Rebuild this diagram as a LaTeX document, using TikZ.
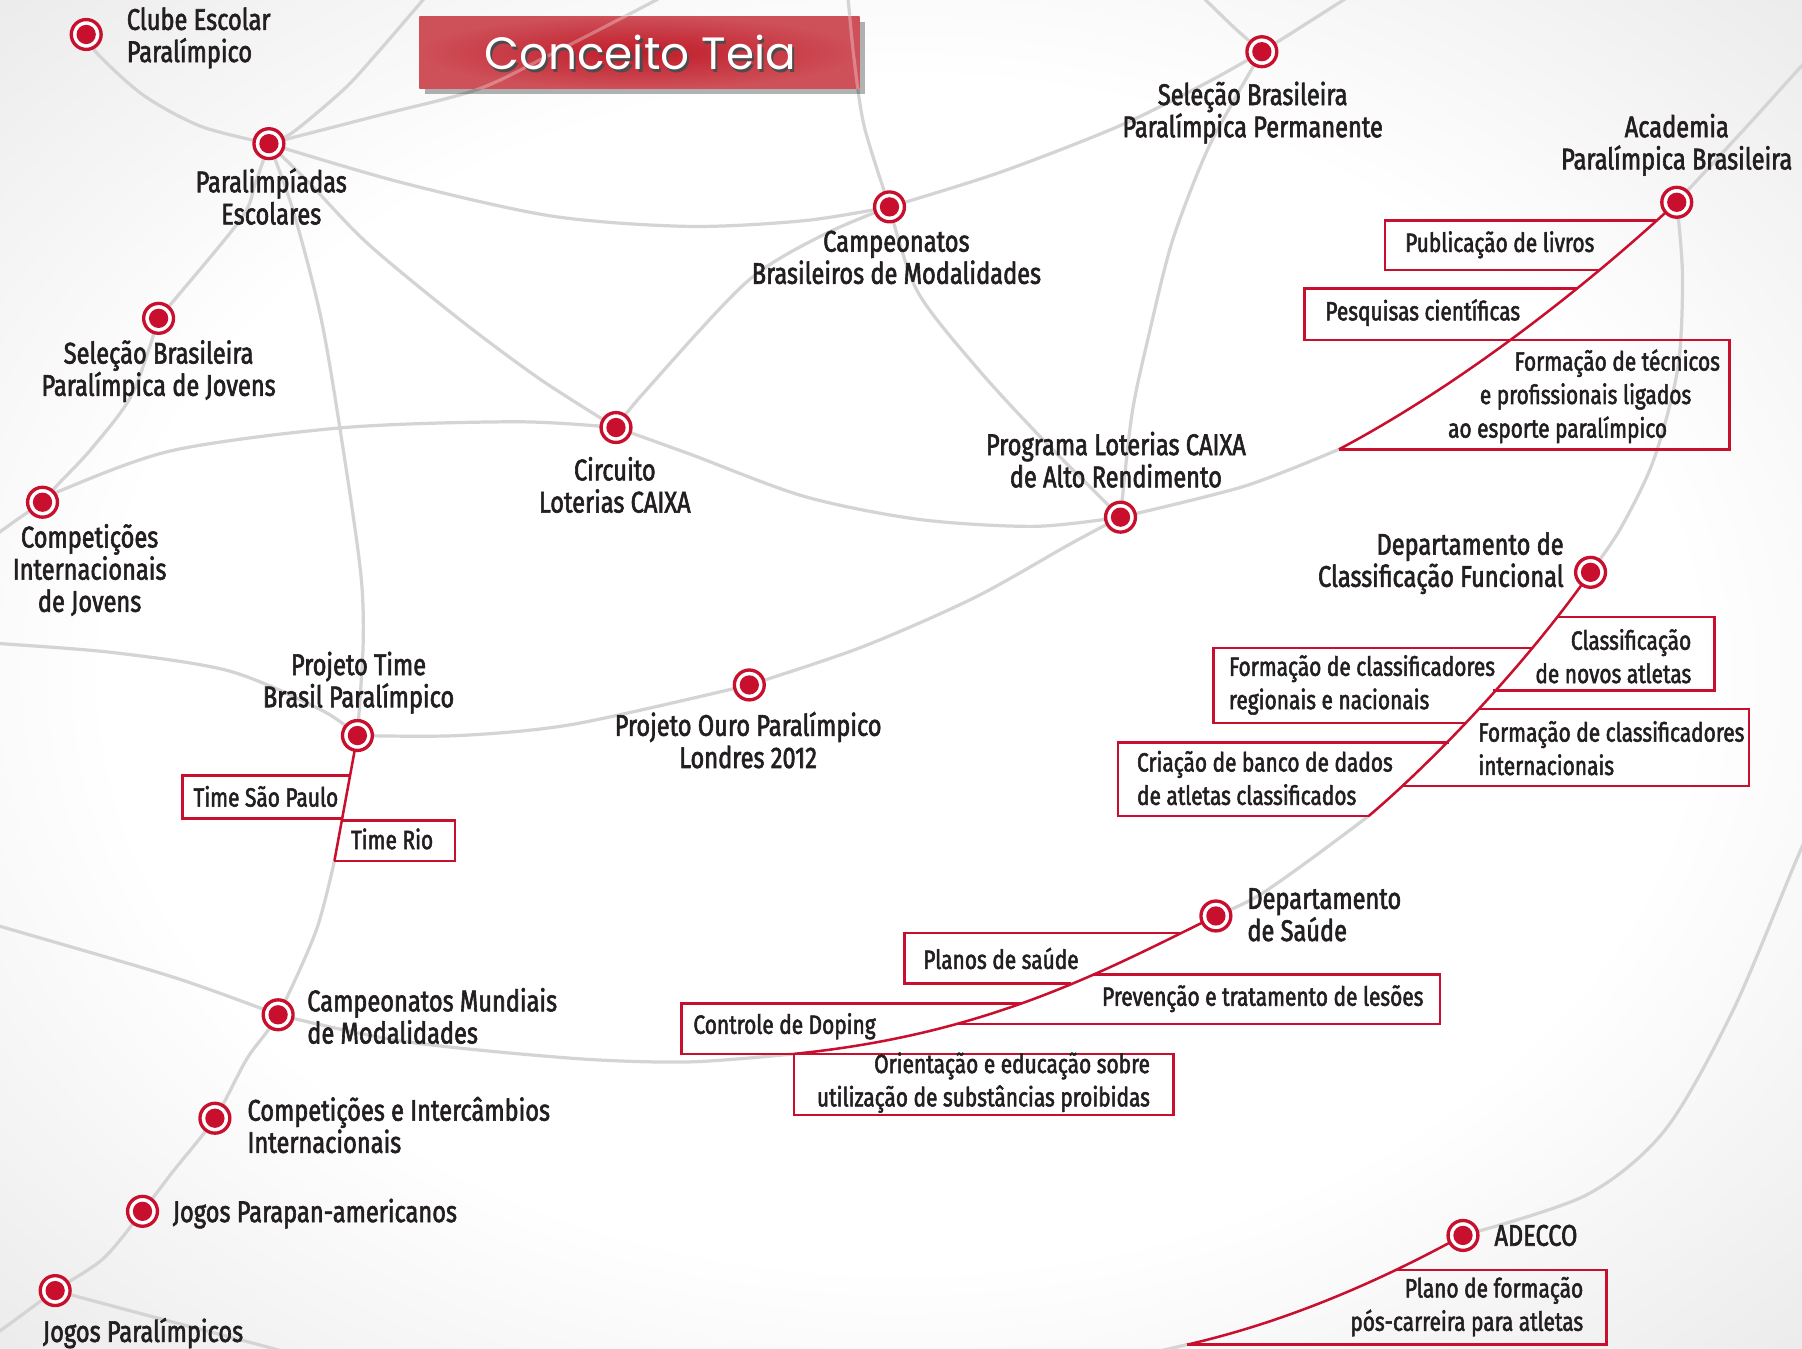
\documentclass[tikz,border=0pt]{standalone}
\usepackage{fontspec}
\setmainfont{Fira Sans}[FakeStretch=0.79, FakeBold=2]
\newfontfamily\titlefont{Poppins}
\usetikzlibrary{shadows}
\pgfdeclarelayer{bgl}
\pgfdeclarelayer{lin}
\pgfsetlayers{bgl,lin,main}
\definecolor{cred}{RGB}{200,16,46}
\definecolor{cgrey}{RGB}{212,212,212}
\definecolor{ctext}{RGB}{35,31,32}
\definecolor{tred1}{RGB}{192,28,42}
\definecolor{tred2}{RGB}{206,80,88}
\pgfdeclareradialshading{bgshade}{\pgfpoint{0bp}{0bp}}{color(0bp)=(white); color(22bp)=(white); color(50bp)=(black!16); color(72bp)=(black!20)}
\begin{document}
\begin{tikzpicture}[x=0.5pt,y=-0.5pt,
  marker/.style={circle, draw=cred, line width=1.45pt, fill=white, minimum size=13pt, inner sep=0pt,
    path picture={\fill[cred] (path picture bounding box.center) circle (4.2pt);}},
  lbl/.style={font=\fontsize{13}{14}\selectfont, text=ctext, inner sep=0pt, align=center},
  btxt/.style={font=\fontsize{11.5}{14.5}\selectfont, text=ctext, inner sep=0pt},
  web/.style={cgrey, line width=1.4pt},
  redl/.style={cred, line width=1.1pt},
  boxl/.style={cred, line width=1.1pt, line join=miter},
  streak/.style={white, opacity=0.3, line width=1.4pt}]
\useasboundingbox (0,0) rectangle (1568,1173);
\begin{pgfonlayer}{bgl}
\shade[shading=bgshade] (0,0) rectangle (1568,1173);
\end{pgfonlayer}

% markers
\node[marker] (m1) at (75,30) {};
\node[marker] (m2) at (234,125) {};
\node[marker] (m3) at (138,277) {};
\node[marker] (m4) at (37,437) {};
\node[marker] (m5) at (536,372) {};
\node[marker] (m6) at (774,180) {};
\node[marker] (m7) at (1098,45) {};
\node[marker] (m8) at (1459,176) {};
\node[marker] (m9) at (975,450) {};
\node[marker] (m10) at (1384,498) {};
\node[marker] (m11) at (652,596) {};
\node[marker] (m12) at (311,640) {};
\node[marker] (m13) at (242,883) {};
\node[marker] (m14) at (187,973) {};
\node[marker] (m15) at (124,1054) {};
\node[marker] (m16) at (48,1123) {};
\node[marker] (m17) at (1058,797) {};
\node[marker] (m18) at (1273,1075) {};

% branch ends
\coordinate (e8) at (1165,391);
\coordinate (e10) at (1191,710);
\coordinate (e17) at (691,917);
\coordinate (e18) at (1033,1170);
\coordinate (e12) at (291,749);

\begin{pgfonlayer}{lin}
\draw[web] plot[smooth] coordinates {(m1.center) (85,47) (125,83) (175,110) (m2.center)};
\draw[web] plot[smooth] coordinates {(m2.center) (255,115) (300,77) (331,43) (368,0) (378,-12)};
\draw[web] plot[smooth] coordinates {(m2.center) (331,100) (415,78) (476,49) (571,0) (590,-12)};
\draw[web] plot[smooth] coordinates {(m2.center) (350,159) (480,188) (599,197) (700,192) (m6.center)};
\draw[web] plot[smooth] coordinates {(m2.center) (268,158) (320,212) (400,278) (470,330) (m5.center)};
\draw[web] plot[smooth] coordinates {(m2.center) (222,160) (210,190) (150,263) (m3.center)};
\draw[web] plot[smooth] coordinates {(m2.center) (255,183) (280,280) (300,400) (314,500) (316,560) (m12.center)};
\draw[web] plot[smooth] coordinates {(m3.center) (115,343) (80,390) (50,422) (m4.center)};
\draw[web] plot[smooth] coordinates {(m4.center) (15,452) (-10,470)};
\draw[web] plot[smooth] coordinates {(m4.center) (50,428) (150,392) (300,372) (450,367) (m5.center)};
\draw[web] plot[smooth] coordinates {(m5.center) (560,342) (649,246) (715,205) (m6.center)};
\draw[web] plot[smooth] coordinates {(m5.center) (600,395) (700,432) (800,452) (900,458) (m9.center)};
\draw[web] plot[smooth] coordinates {(736,-10) (738,0) (743,50) (752,110) (m6.center)};
\draw[web] plot[smooth] coordinates {(m6.center) (870,150) (973,110) (1050,72) (m7.center)};
\draw[web] plot[smooth] coordinates {(m7.center) (1075,25) (1049,0) (1040,-8)};
\draw[web] plot[smooth] coordinates {(m7.center) (1125,28) (1169,0) (1185,-10)};
\draw[web] plot[smooth] coordinates {(m7.center) (1075,85) (1049,134) (1020,210) (1000,290) (985,360) (m9.center)};
\draw[web] plot[smooth] coordinates {(m6.center) (798,253) (850,320) (908,383) (m9.center)};
\draw[web] plot[smooth] coordinates {(m9.center) (1083,423) (e8)};
\draw[web] plot[smooth] coordinates {(m8.center) (1520,110) (1568,57) (1590,35)};
\draw[web] plot[smooth] coordinates {(m8.center) (1464,240) (1460,320) (1439,400) (1410,460) (m10.center)};
\draw[web] plot[smooth] coordinates {(1590,700) (1568,737) (1509,877) (1449,983) (1380,1040) (m18.center)};
\draw[web] plot[smooth] coordinates {(e10) (1140,748) (1094,780) (m17.center)};
\draw[web] plot[smooth] coordinates {(e17) (600,924) (500,921) (350,906) (m13.center)};
\draw[web] (e18) -- (990,1180);
\draw[web] plot[smooth] coordinates {(e12) (275,810) (m13.center) (215,921) (m14.center) (150,1020) (m15.center) (90,1095) (m16.center) (0,1158) (-20,1170)};
\draw[web] plot[smooth] coordinates {(m16.center) (130,1145) (225,1170) (260,1180)};
\draw[web] plot[smooth] coordinates {(m12.center) (280,618) (200,584) (100,568) (0,560) (-20,559)};
\draw[web] plot[smooth] coordinates {(m11.center) (500,630) (400,640) (m12.center)};
\draw[web] plot[smooth] coordinates {(m11.center) (750,563) (848,520) (930,474) (m9.center)};
\draw[web] plot[smooth] coordinates {(m13.center) (150,850) (0,806) (-20,800)};
% red branches
\draw[redl] (m8.center) .. controls (1390,240) and (1280,330) .. (e8);
\draw[redl] (m10.center) .. controls (1330,575) and (1250,660) .. (e10);
\draw[redl] (m17.center) .. controls (960,845) and (860,900) .. (e17);
\draw[redl] (m18.center) .. controls (1200,1115) and (1120,1150) .. (e18);
\draw[redl] (m12.center) -- (e12);
\end{pgfonlayer}

% boxes
\draw[boxl] (1442,192) -- (1205,192) -- (1205,235) -- (1392,235);
\draw[boxl] (1372,251) -- (1135,251) -- (1135,296) -- (1313,296);
\draw[boxl] (1313,296) -- (1505,296) -- (1505,391) -- (e8);
\draw[boxl] (1355,537) -- (1492,537) -- (1492,601) -- (1299,601);
\draw[boxl] (1334,564) -- (1056,564) -- (1056,629) -- (1275,629);
\draw[boxl] (1287,617) -- (1522,617) -- (1522,684) -- (1220,684);
\draw[boxl] (1261,646) -- (973,646) -- (973,710) -- (e10);
\draw[boxl] (1028,812) -- (787,812) -- (787,856) -- (932,856);
\draw[boxl] (951,848) -- (1253,848) -- (1253,891) -- (833,891);
\draw[boxl] (888,873) -- (593,873) -- (593,917) -- (e17);
\draw[boxl] (e17) rectangle (1021,970);
\draw[boxl] (1216,1105) -- (1398,1105) -- (1398,1170) -- (e18);
\draw[boxl] (305,675) -- (159,675) -- (159,712) -- (298,712);
\draw[boxl] (297,714) -- (396,714) -- (396,749) -- (e12);

% labels
\node[lbl, anchor=west, align=left] (l1) at (110,33) {Clube Escolar\\Paralímpico};
\node[lbl] (l2) at (236,171) {Paralimpíadas\\Escolares};
\node[lbl] (l3) at (138,323) {Seleção Brasileira\\Paralímpica de Jovens};
\node[lbl] (l4) at (78,496) {Competições\\Internacionais\\de Jovens};
\node[lbl] (l5) at (535,422) {Circuito\\Loterias CAIXA};
\node[lbl] (l6) at (780,224) {Campeonatos\\Brasileiros de Modalidades};
\node[lbl] (l7) at (1090,98) {Seleção Brasileira\\Paralímpica Permanente};
\node[lbl] (l8) at (1459,126) {Academia\\Paralímpica Brasileira};
\node[lbl] (l9) at (971,400) {Programa Loterias CAIXA\\de Alto Rendimento};
\node[lbl, anchor=east, align=right] (l10) at (1361,490) {Departamento de\\Classificação Funcional};
\node[lbl] (l11) at (651,644) {Projeto Ouro Paralímpico\\Londres 2012};
\node[lbl] (l12) at (312,594) {Projeto Time\\Brasil Paralímpico};
\node[lbl, anchor=west, align=left] (l13) at (267,884) {Campeonatos Mundiais\\de Modalidades};
\node[lbl, anchor=west, align=left] (l14) at (215,979) {Competições e Intercâmbios\\Internacionais};
\node[lbl, anchor=west] (l15) at (150,1056) {Jogos Parapan-americanos};
\node[lbl, anchor=west] (l16) at (37,1160) {Jogos Paralímpicos};
\node[lbl, anchor=west, align=left] (l17) at (1085,796) {Departamento\\de Saúde};
\node[lbl, anchor=west] (l18) at (1300,1075) {ADECCO};

% box texts
\node[btxt] (b1) at (1305,213) {Publicação de livros};
\node[btxt] (b2) at (1238,272) {Pesquisas científicas};
\node[btxt, anchor=east] (b3a) at (1497,316) {Formação de técnicos};
\node[btxt, anchor=east] (b3b) at (1472,345) {e profissionais ligados};
\node[btxt, anchor=east] (b3c) at (1451,374) {ao esporte paralímpico};
\node[btxt, anchor=east, align=right] (b4) at (1472,571) {Classificação\\de novos atletas};
\node[btxt, anchor=west, align=left] (b5) at (1069,596) {Formação de classificadores\\regionais e nacionais};
\node[btxt, anchor=west, align=left] (b6) at (1286,651) {Formação de classificadores\\internacionais};
\node[btxt, anchor=west, align=left] (b7) at (989,677) {Criação de banco de dados\\de atletas classificados};
\node[btxt, anchor=west] (b8) at (803,834) {Planos de saúde};
\node[btxt, anchor=east] (b9) at (1239,869) {Prevenção e tratamento de lesões};
\node[btxt, anchor=west] (b10) at (603,893) {Controle de Doping};
\node[btxt, anchor=east, align=right] (b11) at (1001,942) {Orientação e educação sobre\\utilização de substâncias proibidas};
\node[btxt, anchor=east, align=right] (b12) at (1378,1137) {Plano de formação\\pós-carreira para atletas};
\node[btxt, anchor=west] (b13) at (168,693) {Time São Paulo};
\node[btxt, anchor=west] (b14) at (305,730) {Time Rio};

% title
\node[rectangle, minimum width=191.5pt, minimum height=31.5pt, inner sep=0pt,
  inner color=tred1, outer color=tred2,
  drop shadow={shadow xshift=2.5pt, shadow yshift=-2.5pt, opacity=0.3, fill=black}] (title) at (556.5,45.5) {};
\begin{scope}
\clip (title.south west) rectangle (title.north east);
\draw[streak] plot[smooth] coordinates {(m2.center) (331,100) (415,78) (476,49) (571,0) (590,-12)};
\draw[streak] plot[smooth] coordinates {(736,-10) (738,0) (743,50) (752,110) (m6.center)};
\end{scope}
\node[text=black!70, inner sep=0pt, font=\titlefont\fontsize{19.7}{20}\selectfont] (tsh) at (559,48) {Conceito Teia};
\node[text=white, inner sep=0pt, font=\titlefont\fontsize{19.7}{20}\selectfont] (ttl) at (557,46) {Conceito Teia};
\end{tikzpicture}
\end{document}
